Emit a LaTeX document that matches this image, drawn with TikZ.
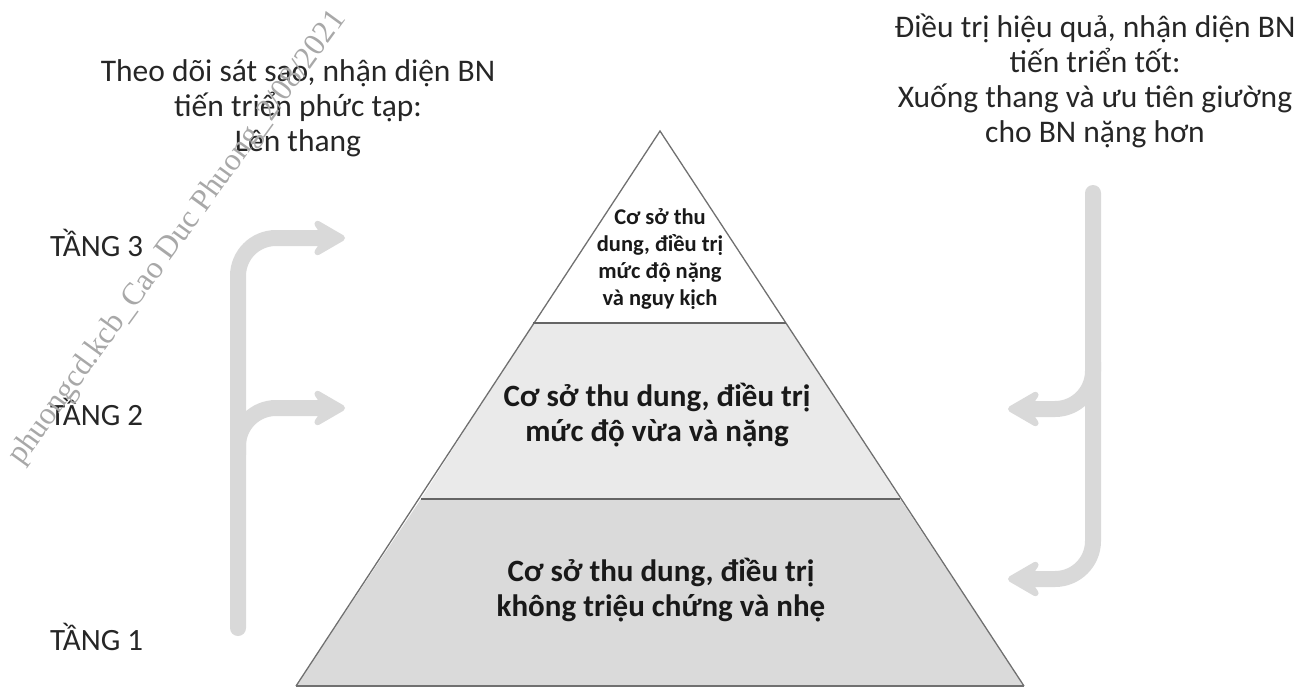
\documentclass[tikz,border=0pt]{standalone}
\usepackage{fontspec}
\setmainfont{Carlito}
\newfontfamily\wmfont{Liberation Serif}
\usetikzlibrary{arrows.meta}
\definecolor{arrgray}{HTML}{D9D9D9}
\definecolor{edgegray}{HTML}{707070}
\definecolor{midfill}{HTML}{EAEAEA}
\definecolor{lowfill}{HTML}{DADADA}
\definecolor{wmgray}{HTML}{A8A8A8}
\tikzset{
  flow/.style={draw=arrgray, line width=16pt, line cap=round, rounded corners=38pt,
    -{Stealth[length=40pt, width=46pt, inset=15pt, round]}},
  tier/.style={draw=edgegray, line width=1.3pt, line join=miter},
  divider/.style={draw=edgegray!90!black, line width=2pt},
  headtext/.style={align=center, inner sep=0pt, font=\fontsize{31.5}{34.8}\selectfont, text=black!85},
  levellabel/.style={anchor=west, inner sep=0pt, font=\fontsize{31}{34}\selectfont, text=black!85},
  boxtext/.style={align=center, inner sep=0pt, font=\bfseries\fontsize{31}{35.5}\selectfont, text=black!90},
  smalltext/.style={align=center, inner sep=0pt, font=\bfseries\fontsize{22.5}{27}\selectfont, text=black!90}
}
\begin{document}
\begin{tikzpicture}[x=1pt, y=-1pt]
\useasboundingbox (0,0) rectangle (1305,688);

% pyramid corners
\coordinate (apex) at (660,131);
\coordinate (t1l) at (533,323);
\coordinate (t1r) at (786,323);
\coordinate (t2l) at (421,499);
\coordinate (t2r) at (900,499);
\coordinate (bl) at (296,686);
\coordinate (br) at (1024,686);

\fill[white] (apex) -- (t1r) -- (t1l) -- cycle;
\fill[midfill] (t1l) -- (t1r) -- (t2r) -- (t2l) -- cycle;
\fill[lowfill] (t2l) -- (t2r) -- (br) -- (bl) -- cycle;
\draw[tier] (bl) -- (apex) -- (br);
\draw[tier] (bl) -- (br);
\draw[divider] (t1l) -- (t1r);
\draw[divider] (t2l) -- (t2r);

% pyramid texts
\node[smalltext] (top) at (660,259) {Cơ sở thu\\dung, điều trị\\mức độ nặng\\và nguy kịch};
\node[boxtext] (mid) at (657,415) {Cơ sở thu dung, điều trị\\mức độ vừa và nặng};
\node[boxtext] (low) at (661,590) {Cơ sở thu dung, điều trị\\không triệu chứng và nhẹ};

% headings
\node[headtext] (upnote) at (298,108) {Theo dõi sát sao, nhận diện BN\\tiến triển phức tạp:\\Lên thang};
\node[headtext] (downnote) at (1095,81) {Điều trị hiệu quả, nhận diện BN\\tiến triển tốt:\\Xuống thang và ưu tiên giường\\cho BN nặng hơn};

% level labels
\node[levellabel] (l3) at (50,243) {TẦNG 3};
\node[levellabel] (l2) at (50,412) {TẦNG 2};
\node[levellabel] (l1) at (50,637) {TẦNG 1};

% left (escalation) arrows
\coordinate (lbot) at (238,628);
\coordinate (lcorner3) at (238,238);
\coordinate (ltip3) at (345,238);
\coordinate (lbranch) at (238,455);
\coordinate (lcorner2) at (238,408);
\coordinate (ltip2) at (345,408);
\draw[flow] (lbot) -- (lcorner3) -- (ltip3);
\draw[flow] (lbranch) -- (lcorner2) -- (ltip2);

% right (de-escalation) arrows
\coordinate (rtop) at (1093,193);
\coordinate (rcorner1) at (1093,579);
\coordinate (rtip1) at (1008,579);
\coordinate (rbranch) at (1093,362);
\coordinate (rcorner2) at (1093,409);
\coordinate (rtip2) at (1008,409);
\draw[flow] (rtop) -- (rcorner1) -- (rtip1);
\draw[flow] (rbranch) -- (rcorner2) -- (rtip2);

% watermark
\node[rotate=54, inner sep=0pt, text=wmgray, font=\wmfont\fontsize{31.5}{31.5}\selectfont] (wm) at (178,238) {phuongcd.kcb\_Cao Duc Phuong\_2/08/2021};
\end{tikzpicture}
\end{document}
